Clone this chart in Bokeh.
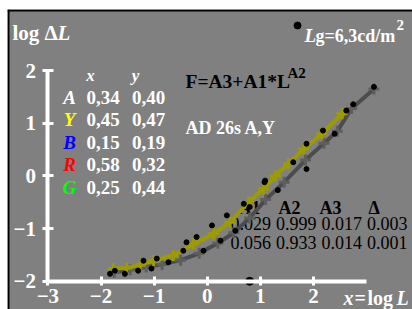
from bokeh.plotting import figure
from bokeh.models import Range1d, FixedTicker, CustomJSTickFormatter, Span
from bokeh.core.properties import value
from bokeh.embed import file_html
from bokeh.resources import INLINE

# ---------------- data ----------------
x_ticks = [-3, -2, -1, 0, 1, 2]
y_ticks = [-2, -1, 0, 1, 2]

yellow_x = [-1.77, -1.52, -1.26, -1.01, -0.64, -0.26, 0.12, 0.43, 0.78, 1.06, 1.28, 1.53, 1.82, 2.16, 2.54]
yellow_y = [-1.76, -1.75, -1.69, -1.61, -1.51, -1.29, -1.10, -0.88, -0.50, -0.25, 0.00, 0.23, 0.51, 0.80, 1.18]

gray_x = [-1.75, -1.45, -1.15, -0.85, -0.50, -0.15, 0.20, 0.50, 0.80, 1.10, 1.45, 1.85, 2.20, 2.45, 2.72, 3.14]
gray_y = [-1.83, -1.78, -1.73, -1.68, -1.60, -1.47, -1.28, -1.08, -0.80, -0.45, -0.12, 0.30, 0.62, 0.85, 1.28, 1.65]

dots_x = [-1.83, -1.74, -1.55, -1.30, -1.20, -1.05, -0.95, -0.73, -0.45, -0.39, -0.20, -0.07, 0.09, 0.25,
          0.37, 0.53, 0.69, 0.80, 1.08, 1.09, 1.33, 1.62, 1.87, 1.87, 2.18, 2.40, 2.62, 2.75, 3.14]
dots_y = [-1.86, -1.80, -1.86, -1.80, -1.61, -1.76, -1.57, -1.64, -1.42, -1.26, -1.16, -1.42, -0.94, -1.23,
          -0.75, -1.04, -0.53, -0.59, -0.12, -0.09, -0.27, 0.26, 0.13, 0.61, 0.86, 0.80, 1.24, 1.36, 1.69]

lg_log = [0.8]      # log of Lg = 6,3 cd/m2
lg_axis = [-2.0]

legend_letters = ["A", "Y", "B", "R", "G"]
legend_colors = ["#ffffff", "#ffff00", "#0000ff", "#ff0000", "#00ff00"]
legend_xv = ["0,34", "0,45", "0,15", "0,58", "0,25"]
legend_yv = ["0,40", "0,47", "0,19", "0,32", "0,44"]

fit_headers = ["A1", "A2", "A3", "\u0394"]
fit_row1 = ["0.029", "0.999", "0.017", "0.003"]
fit_row2 = ["0.056", "0.933", "0.014", "0.001"]

# ---------------- layout ----------------
W, H = 412, 309
FL, FT = 7, 9          # frame left / top offsets in the canvas


def X(px):
    return (px - 206.7) / 53.1


def Y(py):
    return (175.4 - py) / 52.67


SERIF = "Liberation Serif"
BG = "#808080"
YEL = "#9c9c00"
GRL = "#4c4c4c"
GRM = "#5e5e5e"

p = figure(width=W, height=H, output_backend="svg", toolbar_location=None, title=None,
           x_range=Range1d(X(FL), X(W)), y_range=Range1d(Y(H), Y(FT)),
           min_border=0, min_border_left=FL, min_border_right=0, min_border_top=FT, min_border_bottom=0,
           background_fill_color=BG, border_fill_color="white",
           outline_line_color=None)
p.grid.visible = False

# frame edges (left and top black border)
p.add_layout(Span(location=X(FL + 1), dimension="height", line_color="black", line_width=2))
p.add_layout(Span(location=Y(FT + 1), dimension="width", line_color="black", line_width=2))

fmt = CustomJSTickFormatter(code="return tick < 0 ? '\\u2212' + Math.abs(tick) : String(tick);")
for ax, loc, ticks, bnd in ((p.xaxis, -2, x_ticks, (-3, 3)), (p.yaxis, -3, y_ticks, (-2, 2))):
    ax.fixed_location = loc
    ax.ticker = FixedTicker(ticks=ticks)
    ax.bounds = bnd
    ax.formatter = fmt
    ax.axis_line_color = "white"
    ax.axis_line_width = 4
    ax.major_tick_line_color = "white"
    ax.major_tick_line_width = 3
    ax.minor_tick_line_color = None
    ax.major_label_text_color = "white"
    ax.major_label_text_font = SERIF
    ax.major_label_text_font_style = "bold"
    ax.major_label_text_font_size = "21px"
p.xaxis.major_tick_in = 5
p.xaxis.major_tick_out = 4
p.xaxis.major_label_standoff = 4
p.yaxis.major_tick_in = 6
p.yaxis.major_tick_out = 5
p.yaxis.major_label_standoff = 7


def txt(xs, ys, texts, color="white", size="19px", style="bold", align="left", baseline="alphabetic"):
    p.text(x=xs, y=ys, text=texts, text_color=color, text_font=value(SERIF),
           text_font_size=size, text_font_style=style, text_align=align, text_baseline=baseline)


# fit table (drawn first so curves go over it)
hdr_px = [238, 278, 319, 368]
val_px = [230, 275.5, 321, 366.5]
txt([X(v) for v in hdr_px], [Y(207)] * 4, fit_headers, color="black", size="18px", style="bold")
txt([X(v) for v in val_px], [Y(223)] * 4, fit_row1, color="black", size="18px", style="normal")
txt([X(v) for v in val_px], [Y(241.5)] * 4, fit_row2, color="black", size="18px", style="normal")

# curves
p.line(gray_x, gray_y, line_color=GRL, line_width=4)
p.scatter(gray_x, gray_y, marker="cross", size=11, line_color=GRM, line_width=3)
p.line(yellow_x, yellow_y, line_color=YEL, line_width=4)
p.scatter(yellow_x, yellow_y, marker="cross", size=11, line_color=YEL, line_width=3)
p.scatter(dots_x, dots_y, marker="circle", size=5, fill_color="black", line_color="black")
p.scatter(lg_log, lg_axis, marker="circle", size=8, fill_color="black", line_color="black")

# top-left axis title
txt([X(12)], [Y(32)], ["log \u0394"], size="21px")
txt([X(57)], [Y(32)], ["L"], size="21px", style="bold italic")

# top-right Lg legend
p.scatter([X(297)], [Y(25)], marker="circle", size=7, fill_color="black", line_color="black")
txt([X(304)], [Y(35)], ["L"], size="19px", style="bold italic")
txt([X(315)], [Y(35)], ["g=6,3cd/m"], size="18px")
txt([X(396)], [Y(24)], ["2"], size="15px")

# colour table
row_base = [96.5, 119, 141.5, 164, 186.5]
txt([X(90), X(135)], [Y(75)] * 2, ["x", "y"], size="17px", style="bold italic", align="center")
txt([X(69)] * 5, [Y(b) for b in row_base], legend_letters, color=legend_colors, size="19px",
    style="bold italic", align="center")
txt([X(86)] * 5, [Y(b) for b in row_base], legend_xv, size="19px")
txt([X(131.5)] * 5, [Y(b) for b in row_base], legend_yv, size="19px")

# formula and condition
txt([X(185)], [Y(81)], ["F=A3+A1*L"], color="black", size="19.5px")
txt([X(287)], [Y(72)], ["A2"], color="black", size="15px")
txt([X(185)], [Y(127)], ["AD 26s A,Y"], size="18px")

# x axis title
txt([X(343)], [Y(297)], ["x"], size="20px", style="bold italic")
txt([X(354)], [Y(297)], ["="], size="20px")
txt([X(367)], [Y(297)], ["log"], size="20px")
txt([X(396)], [Y(297)], ["L"], size="20px", style="bold italic")

open("out.html", "w").write(file_html(p, INLINE))
